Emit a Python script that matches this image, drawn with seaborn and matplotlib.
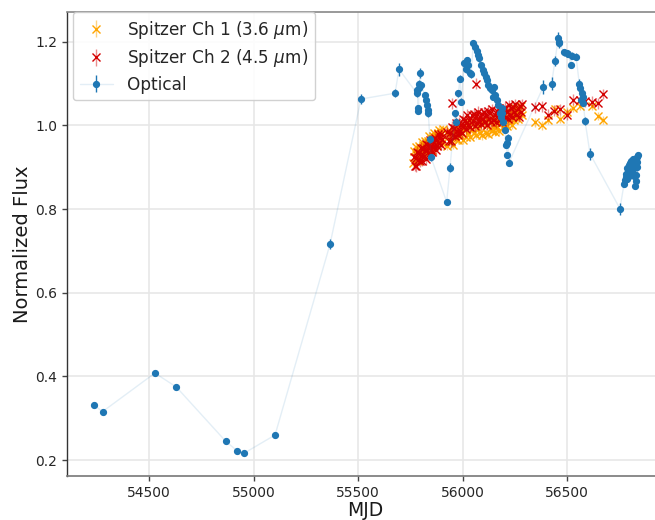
import matplotlib
matplotlib.use("Agg")
import matplotlib.pyplot as plt
import seaborn as sns

# ---------------- data ----------------
opt_mjd = [54236, 54277, 54527, 54629, 54866, 54921, 54952, 55102, 55365, 55513,
           55676, 55695,
           55780, 55783, 55786, 55788, 55790, 55793, 55796, 55799,
           55820, 55824, 55828, 55832, 55835, 55843, 55848,
           55923, 55939, 55963, 55966, 55979, 55987, 55992,
           56007, 56016, 56019, 56027, 56035, 56040,
           56050, 56058, 56067, 56072, 56078,
           56087, 56095, 56101, 56110, 56114,
           56122, 56130, 56141, 56146, 56151, 56154, 56162, 56167,
           56178, 56183, 56186, 56189, 56194, 56202, 56205, 56210, 56212, 56215, 56221,
           56385, 56425, 56441, 56457, 56459, 56462,
           56484, 56497, 56505, 56516, 56521, 56542,
           56558, 56561, 56566, 56569, 56574, 56577, 56585, 56609, 56752,
           56772, 56776, 56779, 56782, 56785, 56788, 56791, 56794, 56797, 56800,
           56803, 56806, 56809, 56812, 56815, 56818, 56820, 56822, 56824, 56826,
           56828, 56830, 56832, 56834, 56836, 56838]
opt_flux = [0.331, 0.316, 0.408, 0.375, 0.245, 0.222, 0.216, 0.260, 0.716, 1.063,
            1.077, 1.134,
            1.077, 1.084, 1.041, 1.035, 1.100, 1.089, 1.126, 1.096,
            1.073, 1.061, 1.049, 1.037, 1.029, 0.967, 0.924,
            0.817, 0.899, 1.029, 1.009, 1.077, 1.112, 1.057,
            1.148, 1.134, 1.156, 1.144, 1.126, 1.122,
            1.196, 1.188, 1.179, 1.168, 1.160,
            1.144, 1.132, 1.126, 1.116, 1.108,
            1.096, 1.089, 1.085, 1.069, 1.091, 1.073, 1.061, 1.049,
            1.029, 1.019, 1.041, 1.029, 1.009, 0.989, 0.953, 0.957, 0.929, 0.971, 0.911,
            1.092, 1.100, 1.154, 1.208, 1.200, 1.196,
            1.175, 1.172, 1.171, 1.144, 1.167, 1.164,
            1.099, 1.089, 1.061, 1.078, 1.067, 1.054, 1.011, 0.932, 0.801,
            0.861, 0.870, 0.877, 0.884, 0.897, 0.872, 0.889, 0.905, 0.880, 0.909,
            0.893, 0.915, 0.886, 0.901, 0.920, 0.878, 0.897, 0.917, 0.855, 0.907,
            0.868, 0.881, 0.912, 0.925, 0.900, 0.929]
opt_err = [0.004, 0.004, 0.004, 0.004, 0.004, 0.004, 0.004, 0.004, 0.012, 0.012,
           0.010, 0.016,
           0.008, 0.008, 0.008, 0.008, 0.008, 0.008, 0.012, 0.008,
           0.008, 0.008, 0.008, 0.008, 0.008, 0.008, 0.008,
           0.008, 0.010, 0.008, 0.008, 0.008, 0.008, 0.008,
           0.008, 0.008, 0.008, 0.008, 0.008, 0.008,
           0.008, 0.008, 0.008, 0.008, 0.008,
           0.008, 0.008, 0.008, 0.008, 0.008,
           0.008, 0.008, 0.008, 0.008, 0.008, 0.008, 0.008, 0.008,
           0.008, 0.008, 0.008, 0.008, 0.008, 0.008, 0.008, 0.008, 0.008, 0.008, 0.008,
           0.016, 0.016, 0.012, 0.016, 0.012, 0.012,
           0.008, 0.008, 0.008, 0.008, 0.008, 0.008,
           0.012, 0.008, 0.008, 0.008, 0.008, 0.008, 0.010, 0.014, 0.014,
           0.008, 0.008, 0.008, 0.008, 0.008, 0.008, 0.008, 0.008, 0.008, 0.008,
           0.008, 0.008, 0.008, 0.008, 0.008, 0.008, 0.008, 0.008, 0.008, 0.008,
           0.008, 0.008, 0.008, 0.008, 0.008, 0.008]

ch1_mjd = [55764, 55768, 55772, 55776, 55780, 55784, 55788, 55792, 55796, 55800,
           55804, 55808, 55812, 55816, 55820, 55824, 55828, 55832, 55836, 55840,
           55844, 55848, 55852, 55856, 55860, 55864, 55868, 55872, 55876, 55880,
           55884, 55888, 55892, 55896, 55900, 55904,
           55924, 55929, 55934, 55939, 55944, 55949, 55954, 55959, 55964, 55969,
           55974, 55979, 55984, 55989, 55994, 55999, 56004, 56009, 56014, 56019,
           56024, 56029, 56034, 56039, 56044, 56049, 56054, 56059, 56064, 56069,
           56074, 56079, 56084, 56089, 56094, 56099, 56104, 56109, 56114, 56119,
           56124, 56129, 56134, 56139, 56144, 56149, 56154, 56159, 56164, 56169,
           56174, 56179, 56184, 56189, 56194, 56199, 56204, 56209, 56214, 56219,
           56224, 56229, 56234, 56239, 56244, 56249, 56254, 56259, 56264, 56269,
           56274, 56279, 56284,
           56346, 56378, 56409, 56441, 56465, 56497, 56529, 56561, 56617, 56649,
           56672]
ch1_flux = [0.910, 0.939, 0.924, 0.948, 0.921, 0.939, 0.915, 0.950, 0.938, 0.931,
            0.961, 0.929, 0.952, 0.943, 0.963, 0.932, 0.954, 0.963, 0.939, 0.974,
            0.950, 0.967, 0.942, 0.974, 0.960, 0.981, 0.955, 0.972, 0.953, 0.981,
            0.971, 0.989, 0.963, 0.984, 0.958, 0.992,
            0.950, 0.978, 0.963, 0.987, 0.960, 0.977, 0.953, 0.987, 0.974, 0.968,
            0.997, 0.965, 0.987, 0.978, 0.997, 0.966, 0.988, 0.996, 0.972, 1.006,
            0.982, 0.998, 0.973, 1.005, 0.989, 1.010, 0.982, 0.998, 0.978, 1.004,
            0.994, 1.010, 0.983, 1.003, 0.976, 1.008, 1.007, 0.983, 1.000, 0.980,
            1.013, 0.992, 1.007, 0.987, 1.019, 0.997, 0.985, 1.014, 0.995, 1.009,
            0.986, 1.022, 1.006, 1.017, 0.996, 1.029, 1.005, 1.015, 0.999, 1.026,
            1.012, 1.032, 1.002, 1.028, 1.013, 1.041, 1.020, 1.031, 1.015, 1.040,
            1.030, 1.046, 1.026,
            1.007, 1.000, 1.013, 1.038, 1.015, 1.033, 1.041, 1.046, 1.046, 1.022,
            1.013]
ch1_err = 0.010

ch2_mjd = [55766, 55770, 55774, 55778, 55782, 55786, 55790, 55794, 55798, 55802,
           55806, 55810, 55814, 55818, 55822, 55826, 55830, 55834, 55838, 55842,
           55846, 55850, 55854, 55858, 55862, 55866, 55870, 55874, 55878, 55882,
           55886, 55890, 55894, 55898, 55902,
           55927, 55932, 55937, 55942, 55947, 55952, 55957, 55962, 55967, 55972,
           55977, 55982, 55987, 55992, 55997, 56002, 56007, 56012, 56017, 56022,
           56027, 56032, 56037, 56042, 56047, 56052, 56057, 56062, 56067, 56072,
           56077, 56082, 56087, 56092, 56097, 56102, 56107, 56112, 56117, 56122,
           56127, 56132, 56137, 56142, 56147, 56152, 56157, 56162, 56167, 56172,
           56177, 56182, 56187, 56192, 56197, 56202, 56207, 56212, 56217, 56222,
           56227, 56232, 56237, 56242, 56247, 56252, 56257, 56262, 56267, 56272,
           56277, 56282,
           55947, 56063,
           56346, 56378, 56406, 56436, 56465, 56497, 56529, 56561, 56585, 56617,
           56649, 56673]
ch2_flux = [0.925, 0.903, 0.921, 0.902, 0.937, 0.917, 0.933, 0.914, 0.947, 0.927,
            0.915, 0.945, 0.927, 0.941, 0.919, 0.955, 0.940, 0.952, 0.931, 0.964,
            0.941, 0.951, 0.936, 0.963, 0.950, 0.970, 0.940, 0.966, 0.951, 0.979,
            0.958, 0.969, 0.953, 0.979, 0.968,
            0.985, 0.963, 0.981, 0.962, 0.997, 0.977, 0.993, 0.975, 1.006, 0.987,
            0.977, 1.006, 0.987, 1.002, 0.982, 1.016, 1.001, 1.013, 0.992, 1.025,
            1.002, 1.012, 0.997, 1.024, 1.010, 1.028, 0.998, 1.022, 1.005, 1.033,
            1.010, 1.020, 1.003, 1.027, 1.016, 1.031, 1.008, 1.025, 1.002, 1.035,
            1.015, 1.029, 1.008, 1.039, 1.013, 1.025, 1.007, 1.035, 1.020, 1.041,
            1.013, 1.033, 1.009, 1.038, 1.026, 1.042, 1.019, 1.035, 1.015, 1.048,
            1.024, 1.041, 1.020, 1.045, 1.031, 1.050, 1.024, 1.040, 1.020, 1.047,
            1.031, 1.051,
            1.053, 1.100,
            1.043, 1.046, 1.025, 1.035, 1.038, 1.025, 1.061, 1.060, 1.058, 1.057,
            1.053, 1.075]
ch2_err = 0.013

labels = ["Spitzer Ch 1 (3.6 $\\mu$m)", "Spitzer Ch 2 (4.5 $\\mu$m)", "Optical"]
colors = ["#FFA500", "#D40000", "#1F77B4"]
xticks = [54500, 55000, 55500, 56000, 56500]
yticks = [0.2, 0.4, 0.6, 0.8, 1.0, 1.2]

# ---------------- styling ----------------
sns.set_theme(style="whitegrid")
plt.rcParams["font.family"] = ["DejaVu Sans"]

fig = plt.figure(figsize=(6.55, 5.2), dpi=100)
ax = fig.add_axes([0.1018, 0.0846, 0.9104, 0.8923])

ax.errorbar(ch1_mjd, ch1_flux, yerr=ch1_err, fmt="x", color=colors[0],
            ms=6, mew=1.0, elinewidth=1.0, ecolor=(1.0, 0.65, 0.0, 0.5),
            capsize=0, label=labels[0], zorder=3)
ax.errorbar(ch2_mjd, ch2_flux, yerr=ch2_err, fmt="x", color=colors[1],
            ms=6, mew=1.0, elinewidth=1.0, ecolor=(0.83, 0.0, 0.0, 0.45),
            capsize=0, label=labels[1], zorder=4)
ax.errorbar(opt_mjd, opt_flux, yerr=opt_err, fmt="-o",
            color=(0.12, 0.47, 0.71, 0.12), lw=1.0,
            mfc=colors[2], mec=colors[2], ms=4.2, ecolor=colors[2],
            elinewidth=1.0, capsize=0, label=labels[2], zorder=5)

ax.set_xlim(54105, 56958)
ax.set_ylim(0.162, 1.271)
ax.set_xticks(xticks)
ax.set_yticks(yticks)
ax.set_xticklabels([str(t) for t in xticks])
ax.set_yticklabels([f"{t:.1f}" for t in yticks])

ax.grid(True, color="#e6e6e6", lw=1.1)
ax.set_facecolor("white")
for side in ["top", "bottom", "left", "right"]:
    ax.spines[side].set_visible(True)
ax.spines["left"].set_color("#333333")
ax.spines["left"].set_linewidth(1.0)
ax.spines["bottom"].set_color("#777777")
ax.spines["bottom"].set_linewidth(1.2)
ax.spines["top"].set_color("#888888")
ax.spines["top"].set_linewidth(1.2)
ax.spines["right"].set_visible(False)

ax.tick_params(axis="both", which="major", bottom=True, left=True, length=3.5,
               width=1.0, color="#444444", labelsize=10, labelcolor="#262626", pad=3.5)

ax.set_xlabel("MJD", fontsize=13.5, color="#1a1a1a", labelpad=1)
ax.set_ylabel("Normalized Flux", fontsize=14, color="#1a1a1a", labelpad=2)

leg = ax.legend(loc="upper left", bbox_to_anchor=(0.0102, 1.0), borderaxespad=0,
                fontsize=12.2, labelspacing=0.38, frameon=True, fancybox=True,
                framealpha=0.9, edgecolor="#cccccc")

fig.savefig("out.png", dpi=100)
